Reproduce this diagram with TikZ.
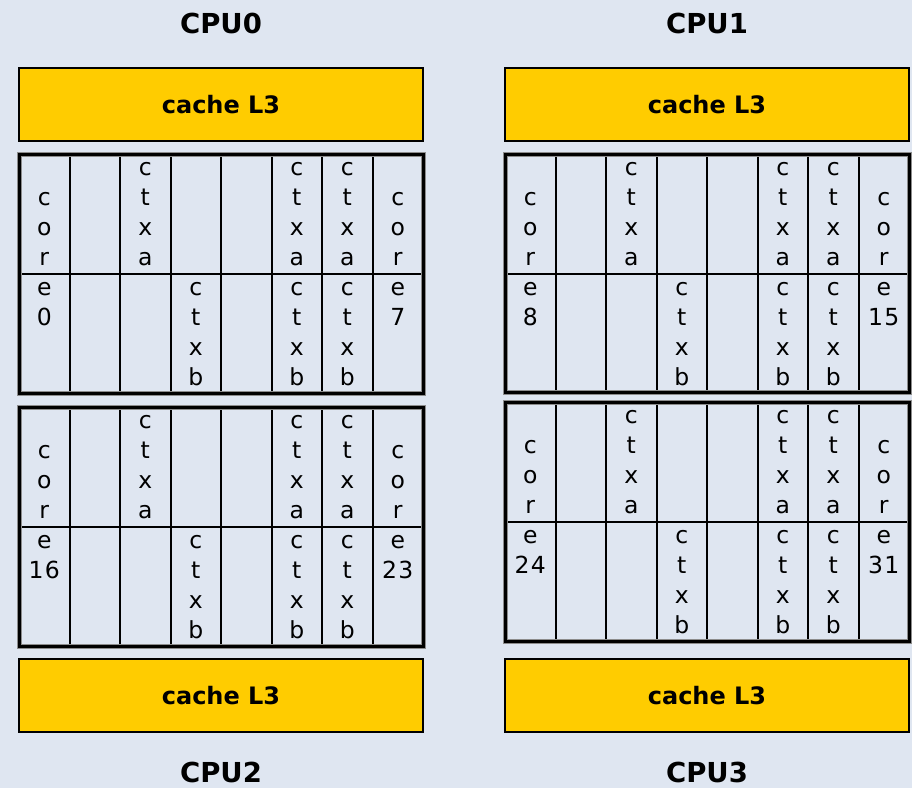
\documentclass[tikz,border=0pt]{standalone}
\usepackage{fontspec}
\setmainfont{DejaVu Sans}
\definecolor{bgcol}{RGB}{223,230,241}
\definecolor{cacheyellow}{RGB}{255,204,0}
\newcommand\cpugrid[7]{%
  \foreach \i in {1,...,7} {\draw[innerline] ({#2+\i*50.5},#3) -- ({#2+\i*50.5},#5);}
  \draw[innerline] (#2,#4) -- ({#2+404},#4);
  \draw[outerhalo] (#2,#3) rectangle ({#2+404},#5);
  \draw[outerline] (#2,#3) rectangle ({#2+404},#5);
  \foreach \col/\start/\word in {1/-3/{c,o,r,e,#6}, 3/-4/{c,t,x,a}, 4/0/{c,t,x,b}, 6/-4/{c,t,x,a}, 6/0/{c,t,x,b}, 7/-4/{c,t,x,a}, 7/0/{c,t,x,b}, 8/-3/{c,o,r,e,#7}} {
    \foreach \ch [count=\k from \start] in \word {
      \node[letter] (#1-\col-\k) at ({#2+(\col-0.5)*50.5},{#4+30*\k+21.5}) {\ch};
    }
  }
}
\begin{document}
\begin{tikzpicture}[x=1pt,y=-1pt,
  cachebox/.style={draw=black,line width=1.5pt,fill=cacheyellow,minimum width=404pt,minimum height=73pt,inner sep=0pt,font=\bfseries\fontsize{24}{28}\selectfont},
  cpulabel/.style={anchor=base,inner sep=0pt,font=\bfseries\fontsize{27.5}{32}\selectfont},
  innerline/.style={draw=black,line width=2pt},
  outerhalo/.style={draw=black!45,line width=5pt},
  outerline/.style={draw=black,line width=3pt},
  letter/.style={anchor=base,inner sep=0pt,font=\fontsize{23.5}{28}\selectfont}]
\fill[bgcol] (0,0) rectangle (912,788);
\useasboundingbox (0,0) rectangle (912,788);
% CPU labels
\node[cpulabel] (cpu0) at (221,33) {CPU0};
\node[cpulabel] (cpu1) at (707,33) {CPU1};
\node[cpulabel] (cpu2) at (221,782) {CPU2};
\node[cpulabel] (cpu3) at (707,782) {CPU3};
% caches
\node[cachebox] (c0) at (221,104.5) {cache L3};
\node[cachebox] (c1) at (707,104.5) {cache L3};
\node[cachebox] (c2) at (221,695.5) {cache L3};
\node[cachebox] (c3) at (707,695.5) {cache L3};
% grids
\cpugrid{LA}{19}{154}{274}{393}{0}{7}
\cpugrid{RA}{505}{154}{274}{392}{8}{1\kern1.5pt 5}
\cpugrid{LB}{19}{407}{527}{646}{1\kern1.5pt 6}{2\kern1.5pt 3}
\cpugrid{RB}{505}{402}{522}{641}{2\kern1.5pt 4}{3\kern1.5pt 1}
\end{tikzpicture}
\end{document}
